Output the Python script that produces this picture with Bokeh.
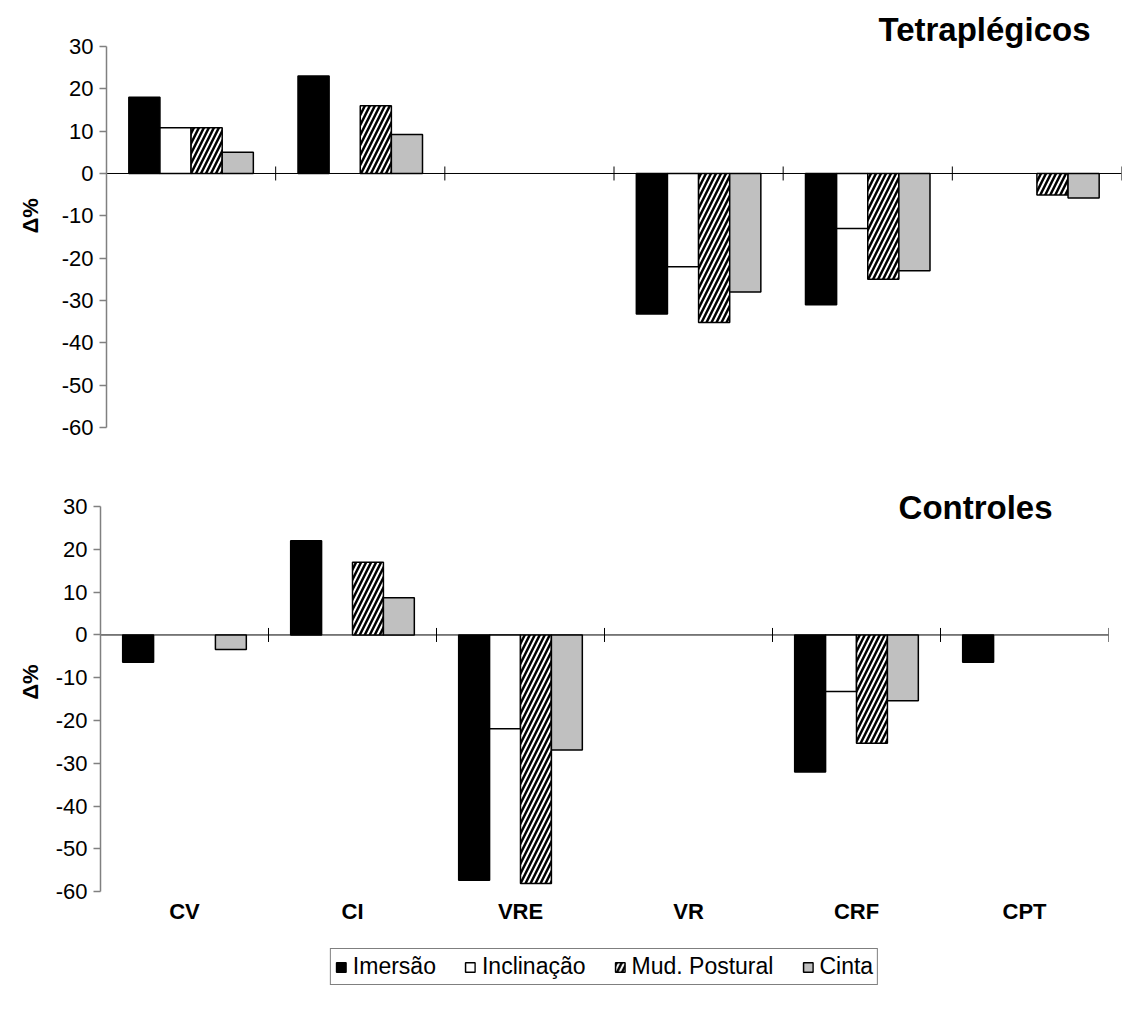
import math
from bokeh.plotting import figure
from bokeh.models import Range1d, FixedTicker, Label, Legend, LegendItem
from bokeh.core.properties import value
from bokeh.layouts import column, row
from bokeh.embed import file_html
from bokeh.resources import INLINE

# ---------------- data ----------------
categories = ["CV", "CI", "VRE", "VR", "CRF", "CPT"]
series = ["Imersão", "Inclinação", "Mud. Postural", "Cinta"]

# Tetraplégicos (None = no bar)
tetra_imersao    = [18.0, 23.0, None, -33.2, -31.0, None]
tetra_inclinacao = [10.8, None, None, -22.0, -13.0, None]
tetra_mud        = [10.8, 16.0, None, -35.2, -25.0, -5.1]
tetra_cinta      = [5.0,  9.2,  None, -28.0, -23.0, -5.8]

# Controles
ctrl_imersao    = [-6.4, 22.0, -57.3, None, -32.0, -6.4]
ctrl_inclinacao = [None, None, -21.9, None, -13.2, None]
ctrl_mud        = [None, 17.0, -58.1, None, -25.3, None]
ctrl_cinta      = [-3.4, 8.7,  -26.9, None, -15.4, None]

y_ticks = [30, 20, 10, 0, -10, -20, -30, -40, -50, -60]

# ---------------- styles ----------------
FONT = "Liberation Sans"
bar_w = 0.184
styles = [
    dict(fill_color="black", line_color="black"),
    dict(fill_color="white", line_color="black"),
    dict(fill_color="white", line_color="black", hatch_pattern="/",
         hatch_color="black", hatch_scale=10, hatch_weight=2.5),
    dict(fill_color="#c0c0c0", line_color="black"),
]
LAB_W = 44


def make_panel(vals_list, fw, fh, y_bottom, y_top, left, top, bottom, title_text,
               title_x, title_y, ylabel_y, px_per_unit, cat_y):
    n = len(categories)
    y_min = min(y_ticks)
    common = dict(output_backend="svg", toolbar_location=None,
                  x_axis_type=None, frame_height=fh,
                  min_border_top=top, min_border_bottom=bottom)
    p = figure(x_range=Range1d(0, n), y_range=Range1d(y_bottom, y_top),
               y_axis_type="linear", frame_width=fw,
               min_border_left=left, min_border_right=4, **common)
    p.outline_line_color = None
    p.ygrid.visible = False

    # y axis
    p.yaxis.bounds = (y_min, max(y_ticks))
    p.yaxis.ticker = FixedTicker(ticks=y_ticks)
    p.yaxis.major_label_overrides = {t: str(t) for t in y_ticks}
    p.yaxis.axis_line_color = "#808080"
    p.yaxis.axis_line_width = 1.5
    p.yaxis.major_tick_line_color = "#808080"
    p.yaxis.major_tick_line_width = 1.5
    p.yaxis.major_tick_in = 0
    p.yaxis.major_tick_out = 7
    p.yaxis.minor_tick_line_color = None
    p.yaxis.major_label_text_font = FONT
    p.yaxis.major_label_text_font_size = "22px"
    p.yaxis.major_label_text_color = "black"
    p.yaxis.major_label_standoff = 6

    # zero line with category separators
    tick_h = 7.0 / px_per_unit
    p.segment(x0=[0], y0=[0], x1=[n], y1=[0], line_color="black", line_width=1)
    seps = list(range(1, n + 1))
    p.segment(x0=seps, y0=[-tick_h] * len(seps), x1=seps, y1=[tick_h] * len(seps),
              line_color="black", line_width=1)

    renderers = []
    for k, vals in enumerate(vals_list):
        xs = [i + 0.5 + (k - 1.5) * bar_w for i, v in enumerate(vals) if v is not None]
        tops = [v for v in vals if v is not None]
        r = p.vbar(x=xs, top=tops, bottom=0, width=bar_w, line_width=1.5, **styles[k])
        renderers.append(r)

    if cat_y is not None:
        p.text(x=[i + 0.5 for i in range(n)], y=[cat_y] * n, text=categories,
               text_font=value(FONT), text_font_size="22px", text_font_style="bold",
               text_color="black", text_align="center", text_baseline="middle")

    p.add_layout(Label(x=title_x, y=title_y, text=title_text, text_font=FONT,
                       text_font_size="33px", text_font_style="bold",
                       text_color="black",
                       text_align="right", text_baseline="alphabetic"))

    # side strip holding the y-axis title
    lab = figure(x_range=Range1d(0, LAB_W), y_range=p.y_range, y_axis_type=None,
                 frame_width=LAB_W, min_border_left=0, min_border_right=0, **common)
    lab.outline_line_color = None
    lab.xgrid.visible = False
    lab.ygrid.visible = False
    lab.add_layout(Label(x=30, y=ylabel_y, text="Δ%", angle=math.pi / 2,
                         text_font=FONT, text_font_size="22px", text_font_style="bold",
                         text_color="black", text_align="center",
                         text_baseline="middle"))
    return p, lab, renderers


PX1 = 4.233
PX2 = 4.278
p1, lab1, _ = make_panel([tetra_imersao, tetra_inclinacao, tetra_mud, tetra_cinta],
                         1015, round(98.5 * PX1), -60, 38.5, 106 - LAB_W, 10, 62,
                         "Tetraplégicos", 5.817, 34.1, -10.0, PX1, None)
p2, lab2, rs = make_panel([ctrl_imersao, ctrl_inclinacao, ctrl_mud, ctrl_cinta],
                          1008, round(118.5 * PX2), -84.5, 34.0, 100 - LAB_W, 0, 0,
                          "Controles", 5.667, 29.7, -11.0, PX2, -64.7)

legend = Legend(items=[LegendItem(label=s, renderers=[r]) for s, r in zip(series, rs)],
                orientation="horizontal", location="bottom_center",
                label_text_font=FONT, label_text_font_size="23px",
                label_text_color="black", label_height=22,
                glyph_width=12, glyph_height=12, label_standoff=6, spacing=28,
                padding=4, margin=11,
                border_line_color="black", border_line_width=1,
                background_fill_color="white")
p2.add_layout(legend)

layout = column(row(lab1, p1, spacing=0), row(lab2, p2, spacing=0), spacing=0)
open("out.html", "w").write(file_html(layout, INLINE))
